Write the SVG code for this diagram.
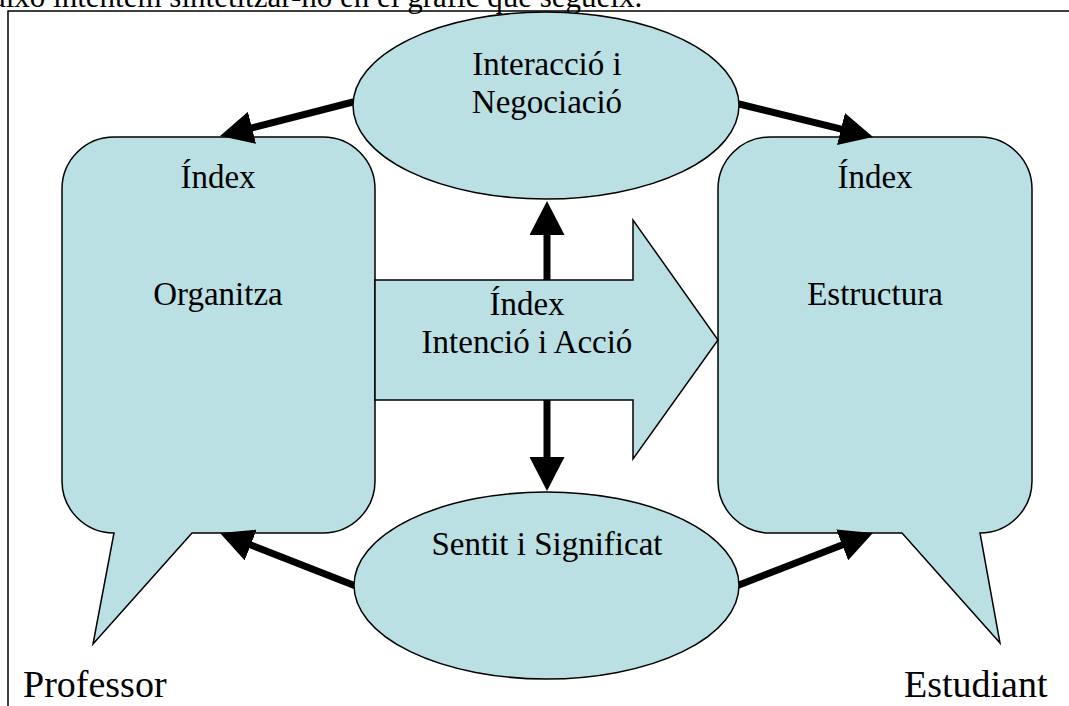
<svg xmlns="http://www.w3.org/2000/svg" width="1069" height="706" viewBox="0 0 1069 706" font-family="Liberation Serif, Times New Roman, serif">
<style>
.shape{fill:#BBE0E3;stroke:#000;stroke-width:1.5}
.t{font-size:33px;fill:#000;text-anchor:middle}
.big{font-size:38px;fill:#000}
.conn{stroke:#000;stroke-width:7;fill:none}
</style>
<defs>
<marker id="head" viewBox="0 0 33 33" markerUnits="userSpaceOnUse" markerWidth="33" markerHeight="33" refX="13" refY="16.5" orient="auto">
<path d="M0,0 L33,16.5 L0,33 Z" fill="#000"/>
</marker>
<marker id="vhead" viewBox="0 0 34 35" markerUnits="userSpaceOnUse" markerWidth="34" markerHeight="35" refX="20" refY="17.5" orient="auto-start-reverse">
<path d="M0,0 L34,17.5 L0,35 Z" fill="#000"/>
</marker>
</defs>
<rect width="1069" height="706" fill="#fff"/>
<text x="-8" y="7" font-size="31" fill="#000">això intentem sintetitzar-ho en el gràfic que segueix.</text>
<rect x="8" y="11" width="1200" height="900" fill="none" stroke="#000" stroke-width="1.5"/>

<g id="professor">
<path class="shape" d="M114,137 H323 A52,52 0 0 1 375,189 V481 A52,52 0 0 1 323,533 H192 L93,644 L114,533 A52,52 0 0 1 62,481 V189 A52,52 0 0 1 114,137 Z"/>
<text class="t" x="218" y="188">Índex</text>
<text class="t" x="218" y="305">Organitza</text>
</g>
<g id="estudiant">
<path class="shape" d="M770,137 H980 A52,52 0 0 1 1032,189 V481 A52,52 0 0 1 980,533 L1000,643 L902,533 H770 A52,52 0 0 1 718,481 V189 A52,52 0 0 1 770,137 Z"/>
<text class="t" x="875" y="188">Índex</text>
<text class="t" x="875" y="305">Estructura</text>
</g>

<g id="connectors">
<line class="conn" x1="355" y1="101.5" x2="239.4" y2="131" marker-end="url(#head)"/>
<line class="conn" x1="737" y1="103.5" x2="853.6" y2="132.2" marker-end="url(#head)"/>
<line class="conn" x1="355" y1="585.8" x2="238.6" y2="540.3" marker-end="url(#head)"/>
<line class="conn" x1="737" y1="585.8" x2="854.3" y2="540.2" marker-end="url(#head)"/>
<line class="conn" x1="547" y1="215" x2="547" y2="477" marker-start="url(#vhead)" marker-end="url(#vhead)"/>
</g>

<g id="intencio">
<path class="shape" d="M375,280 H633 V220 L718,340 L633,459 V400 H375 Z"/>
<text class="t" x="527" y="315">Índex</text>
<text class="t" x="527" y="353">Intenció i Acció</text>
</g>

<g id="interaccio">
<ellipse class="shape" cx="546" cy="105.5" rx="193" ry="93.5"/>
<text class="t" x="547" y="75">Interacció i</text>
<text class="t" x="547" y="113">Negociació</text>
</g>
<g id="sentit">
<ellipse class="shape" cx="546.5" cy="585.5" rx="192.5" ry="93.5"/>
<text class="t" x="547" y="555">Sentit i Significat</text>
</g>

<text class="big" x="23" y="697">Professor</text>
<text class="big" x="904" y="697">Estudiant</text>
</svg>
